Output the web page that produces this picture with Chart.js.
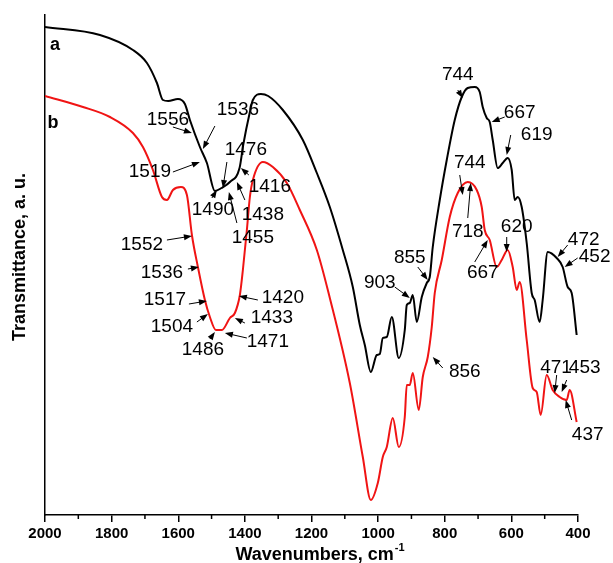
<!DOCTYPE html>
<html>
<head>
<meta charset="utf-8">
<script src="https://cdn.jsdelivr.net/npm/chart.js@4.4.1/dist/chart.umd.min.js"></script>
<style>
  html, body { margin: 0; padding: 0; background: #fff; }
  #wrap { width: 613px; height: 563px; }
</style>
</head>
<body>
<div id="wrap"><canvas id="ftir" width="613" height="563"></canvas></div>
<script>
// spectrum a (black) - wavenumber, cm-1 / transmittance, a.u.
const waveA = [2000, 1835, 1736, 1694, 1664, 1646, 1630, 1601, 1580, 1565, 1535, 1514, 1490, 1470, 1445,
  1416, 1405, 1385, 1376, 1352, 1330, 1286, 1226, 1184, 1145, 1106, 1076, 1055, 1040, 1022,
  1004, 995, 986, 974, 959, 938, 920, 914, 905, 896, 884, 869, 854, 845, 836, 815, 794, 770,
  749, 731, 710, 695, 686, 674, 665, 656, 641, 626, 611, 599, 590, 581, 569, 554, 539, 530,
  515, 506, 491, 464, 446, 431, 419, 404];
const transA = [97.6, 96, 93, 90.4, 86.4, 83, 82.8, 83.2, 82.2, 79, 73.6, 70.4, 64.8, 65.4, 66.6,
  69.4, 74, 80.6, 83, 84.2, 83.8, 81, 75, 68.4, 61.6, 53, 45.6, 38, 34, 28.6,
  32, 32.2, 35.4, 35.6, 39.6, 31.4, 37, 42, 42.4, 44, 38.6, 43.6, 46.4, 47.6, 53.6, 63, 71, 79,
  83.6, 85.4, 85.6, 84.6, 81.6, 79.4, 78.6, 75, 69.4, 70.4, 71.4, 69, 63, 63.6, 61.6, 54.4, 44.4, 43,
  38.6, 43, 52.6, 51.4, 49.6, 45.6, 44.4, 36];

// spectrum b (red)
const waveB = [2000, 1886, 1805, 1736, 1706, 1676, 1649, 1634, 1616, 1592, 1574, 1559, 1541, 1520, 1505,
  1487, 1469, 1445, 1430, 1415, 1406, 1394, 1385, 1376, 1346, 1316, 1274, 1235, 1184, 1145,
  1085, 1046, 1022, 1001, 986, 974, 956, 938, 920, 914, 905, 896, 878, 866, 851, 839, 830,
  809, 785, 761, 731, 704, 689, 680, 665, 644, 629, 611, 596, 584, 575, 554, 536, 524, 512,
  494, 476, 455, 434, 425, 404];
const transB = [83.8, 81.6, 79.6, 76.4, 73.6, 69, 63.6, 63, 65, 65.6, 64, 56, 49.6, 43, 39.6,
  37, 37, 39.4, 40.4, 44, 49, 57, 63.6, 67, 70.6, 69.6, 66.4, 61, 53, 43.4,
  26.4, 11.6, 3, 6.4, 11.6, 13.6, 19.4, 13.6, 19.6, 26, 26, 28.4, 21, 27.6, 31.6, 37.6, 44.4,
  51, 59.6, 64.4, 66.6, 65, 61.6, 57, 55, 49.6, 51, 53, 49.6, 45, 46.6, 35, 25.4, 24.6, 20,
  28, 25, 23.6, 23, 25, 18.6];

// band labels: text centre, arrow tail, arrow tip (wavenumber, a.u.)
const bandLabels = [
  { text: "1556", at: [1631, 79], from: [1616, 77.6], to: [1559, 76.4] },
  { text: "1536", at: [1421, 81], from: [1490, 77.8], to: [1526, 73.2] },
  { text: "1519", at: [1685, 68.6], from: [1616, 68.6], to: [1535, 70.6] },
  { text: "1476", at: [1397, 73], from: [1454, 70.6], to: [1466, 65.4] },
  { text: "1416", at: [1325, 65.6], from: [1388, 68], to: [1412, 69.4] },
  { text: "1490", at: [1496, 61], from: [1499, 63.4], to: [1484, 65] },
  { text: "1438", at: [1346, 60], from: [1400, 63], to: [1424, 66.6] },
  { text: "1455", at: [1376, 55.4], from: [1424, 58.4], to: [1448, 64.6] },
  { text: "1552", at: [1709, 54], from: [1634, 55], to: [1559, 55.8] },
  { text: "1536", at: [1649, 48.4], from: [1571, 49.2], to: [1538, 49.6] },
  { text: "1517", at: [1640, 43], from: [1568, 42.2], to: [1514, 42.8] },
  { text: "1504", at: [1619, 37.6], from: [1544, 38.6], to: [1511, 40.2] },
  { text: "1486", at: [1526, 33], from: [1505, 35.2], to: [1490, 36.6] },
  { text: "1471", at: [1331, 34.6], from: [1394, 35.4], to: [1460, 36.4] },
  { text: "1433", at: [1319, 39.4], from: [1400, 38.4], to: [1430, 39.4] },
  { text: "1420", at: [1286, 43.4], from: [1361, 43], to: [1418, 43.8] },
  { text: "744", at: [761, 88], from: [761, 85], to: [746, 83.4] },
  { text: "667", at: [575, 80.4], from: [620, 79.6], to: [659, 78.6] },
  { text: "619", at: [524, 76], from: [602, 76], to: [614, 72] },
  { text: "744", at: [725, 70.4], from: [755, 68], to: [746, 64] },
  { text: "718", at: [731, 56.6], from: [731, 59.4], to: [722, 66.4] },
  { text: "667", at: [686, 48.4], from: [710, 50.6], to: [671, 55] },
  { text: "620", at: [584, 57.6], from: [614, 55.6], to: [614, 52.6] },
  { text: "472", at: [383, 55], from: [431, 54], to: [461, 51.6] },
  { text: "452", at: [350, 51.6], from: [401, 51.4], to: [440, 49.6] },
  { text: "855", at: [905, 51.4], from: [881, 49.6], to: [851, 47] },
  { text: "903", at: [995, 46.4], from: [950, 45.6], to: [905, 43.4] },
  { text: "856", at: [740, 28.6], from: [806, 29.4], to: [836, 31.6] },
  { text: "471", at: [466, 29.4], from: [464, 28], to: [470, 24.4] },
  { text: "453", at: [380, 29.4], from: [434, 27], to: [449, 24.6] },
  { text: "437", at: [371, 16], from: [419, 19], to: [437, 23] }
];
const curveNames = [
  { text: "a", at: [1970, 94] },
  { text: "b", at: [1976, 78.4] }
];

const FONT = '"Liberation Sans", Arial, sans-serif';

function toPoints(xs, ys) {
  return xs.map((x, i) => ({ x: x, y: ys[i] }));
}

function arrow(ctx, x0, y0, x1, y1) {
  const ang = Math.atan2(y1 - y0, x1 - x0);
  const len = 8, half = 3;
  ctx.beginPath();
  ctx.moveTo(x0, y0);
  ctx.lineTo(x1 - Math.cos(ang) * len * 0.8, y1 - Math.sin(ang) * len * 0.8);
  ctx.stroke();
  ctx.beginPath();
  ctx.moveTo(x1, y1);
  ctx.lineTo(x1 - Math.cos(ang) * len - Math.sin(ang) * half, y1 - Math.sin(ang) * len + Math.cos(ang) * half);
  ctx.lineTo(x1 - Math.cos(ang) * len + Math.sin(ang) * half, y1 - Math.sin(ang) * len - Math.cos(ang) * half);
  ctx.closePath();
  ctx.fill();
}

const decorations = {
  id: "decorations",
  afterDraw(chart) {
    const ctx = chart.ctx, xs = chart.scales.x, ys = chart.scales.y;
    const area = chart.chartArea;
    ctx.save();
    ctx.fillStyle = "#000";
    ctx.strokeStyle = "#000";

    // minor ticks
    ctx.lineWidth = 1.5;
    for (let w = 500; w < 2000; w += 200) {
      const px = xs.getPixelForValue(w);
      ctx.beginPath();
      ctx.moveTo(px, area.bottom);
      ctx.lineTo(px, area.bottom + 4);
      ctx.stroke();
    }

    // band labels with arrows
    ctx.lineWidth = 1;
    ctx.font = "19px " + FONT;
    ctx.textAlign = "center";
    ctx.textBaseline = "middle";
    bandLabels.forEach(b => {
      ctx.fillText(b.text, xs.getPixelForValue(b.at[0]), ys.getPixelForValue(b.at[1]));
      arrow(ctx, xs.getPixelForValue(b.from[0]), ys.getPixelForValue(b.from[1]),
        xs.getPixelForValue(b.to[0]), ys.getPixelForValue(b.to[1]));
    });

    ctx.font = "bold 18px " + FONT;
    curveNames.forEach(c => {
      ctx.fillText(c.text, xs.getPixelForValue(c.at[0]), ys.getPixelForValue(c.at[1]));
    });

    // x title with superscript
    const main = "Wavenumbers, cm", sup = "-1";
    ctx.font = "bold 18px " + FONT;
    const wMain = ctx.measureText(main).width;
    ctx.font = "bold 11px " + FONT;
    const wSup = ctx.measureText(sup).width;
    const cx = (area.left + area.right) / 2 + 8;
    const left = cx - (wMain + wSup) / 2;
    ctx.textAlign = "left";
    ctx.textBaseline = "alphabetic";
    ctx.font = "bold 18px " + FONT;
    ctx.fillText(main, left, 560);
    ctx.font = "bold 11px " + FONT;
    ctx.fillText(sup, left + wMain + 1, 551);

    // y title
    ctx.translate(20, 257);
    ctx.rotate(-Math.PI / 2);
    ctx.font = "bold 18px " + FONT;
    ctx.textAlign = "center";
    ctx.textBaseline = "middle";
    ctx.fillText("Transmittance, a. u.", 0, 0);
    ctx.restore();
  }
};

new Chart(document.getElementById("ftir").getContext("2d"), {
  type: "line",
  data: {
    datasets: [
      { label: "a", data: toPoints(waveA, transA), borderColor: "#000", borderWidth: 2,
        pointRadius: 0, cubicInterpolationMode: "monotone", fill: false },
      { label: "b", data: toPoints(waveB, transB), borderColor: "#f01414", borderWidth: 2,
        pointRadius: 0, cubicInterpolationMode: "monotone", fill: false }
    ]
  },
  options: {
    responsive: false,
    animation: false,
    layout: { padding: { top: 15, right: 35, left: 0, bottom: 0 } },
    plugins: { legend: { display: false }, tooltip: { enabled: false } },
    scales: {
      x: {
        type: "linear", min: 400, max: 2000, reverse: true,
        afterFit(s) { s.height = 48; },
        border: { display: true, color: "#000", width: 1.5 },
        grid: { display: true, drawOnChartArea: false, drawTicks: true, tickLength: 7, color: "#000", lineWidth: 1.5 },
        ticks: { stepSize: 200, color: "#000", padding: 3, maxRotation: 0,
          callback: v => String(v),
          font: { family: FONT, size: 15, weight: "bold" } }
      },
      y: {
        min: 0, max: 100,
        afterFit(s) { s.width = 45; },
        border: { display: true, color: "#000", width: 1.5 },
        grid: { display: false },
        ticks: { display: false }
      }
    }
  },
  plugins: [decorations]
});
</script>
</body>
</html>
